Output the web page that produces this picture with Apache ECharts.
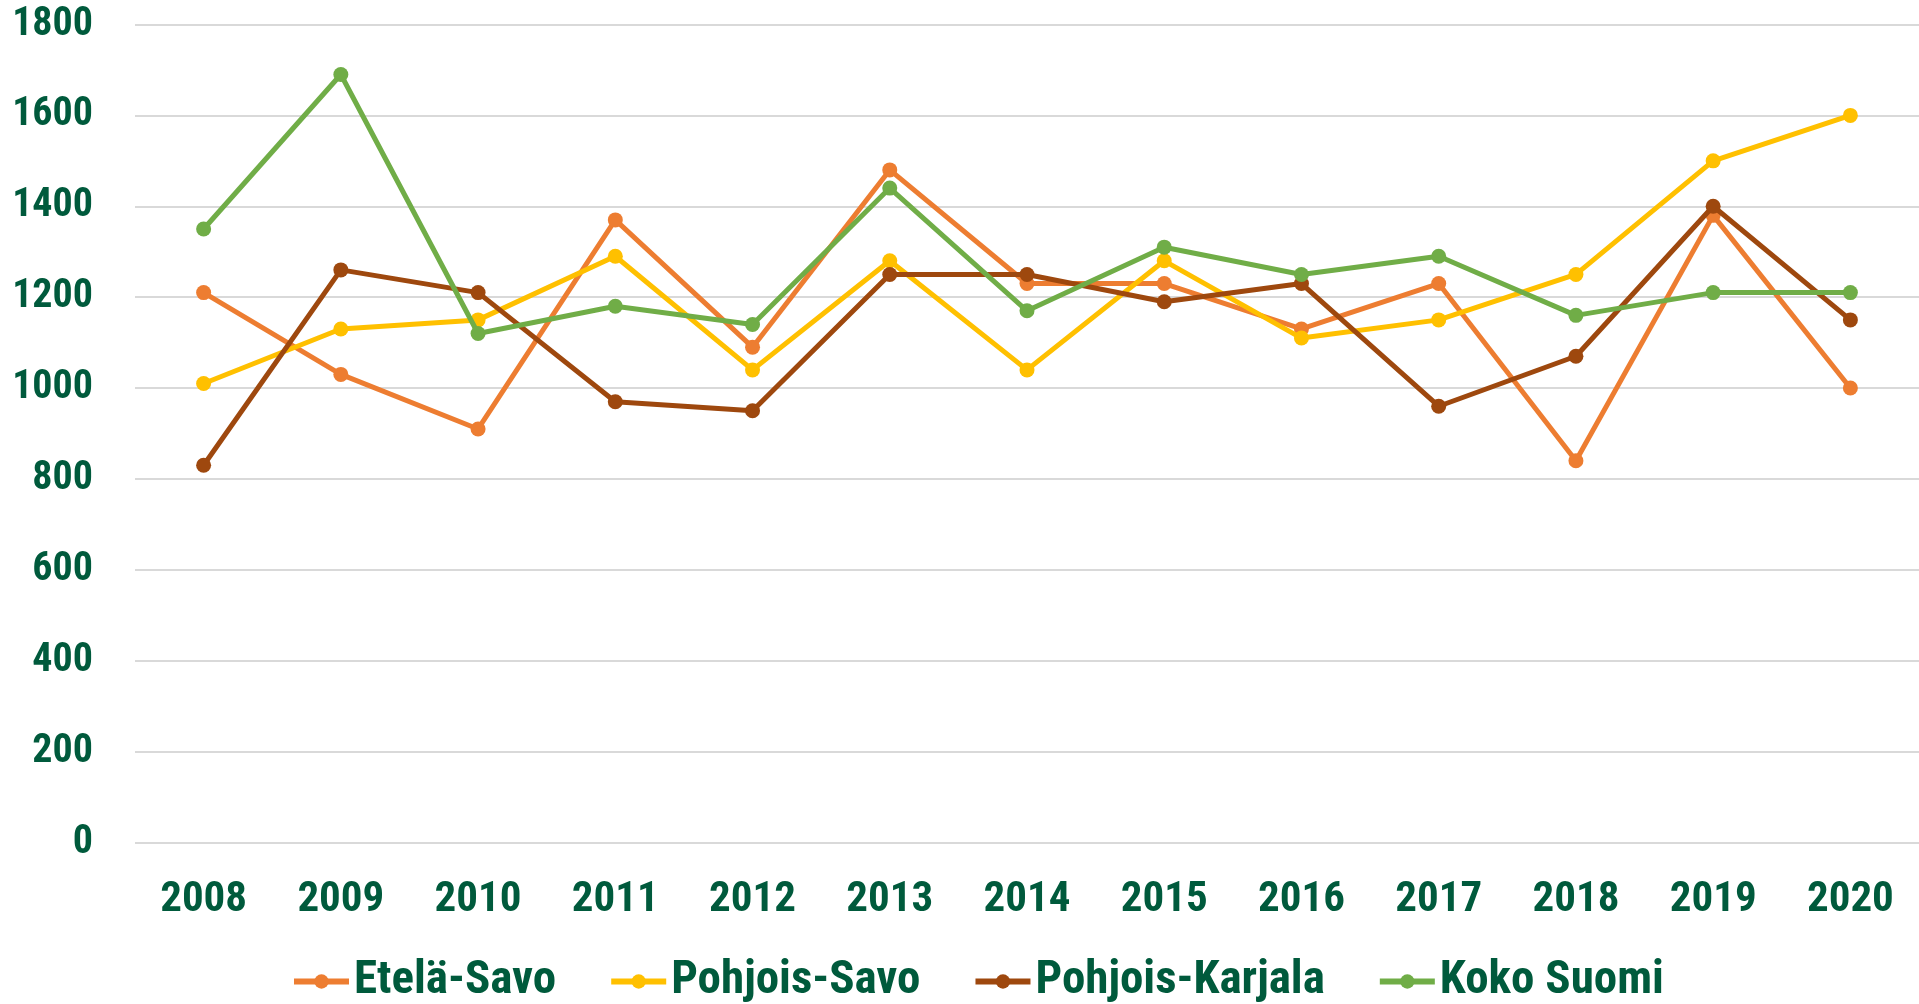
<!DOCTYPE html>
<html>
<head>
<meta charset="utf-8">
<script src="https://cdn.jsdelivr.net/npm/echarts@6/dist/echarts.min.js"></script>
<style>
html,body{margin:0;padding:0;background:#fff;}
#chart{width:1919px;height:1004px;}
</style>
</head>
<body>
<div id="chart"></div>
<script>
const years = ['2008','2009','2010','2011','2012','2013','2014','2015','2016','2017','2018','2019','2020'];
const seriesNames = ['Etelä-Savo','Pohjois-Savo','Pohjois-Karjala','Koko Suomi'];
const etelaSavo = [1210,1030,910,1370,1090,1480,1230,1230,1130,1230,840,1380,1000];
const pohjoisSavo = [1010,1130,1150,1290,1040,1280,1040,1280,1110,1150,1250,1500,1600];
const pohjoisKarjala = [830,1260,1210,970,950,1250,1250,1190,1230,960,1070,1400,1150];
const kokoSuomi = [1350,1690,1120,1180,1140,1440,1170,1310,1250,1290,1160,1210,1210];
const yTicks = [0,200,400,600,800,1000,1200,1400,1600,1800];

const colors = ['#ED7D31','#FFC000','#9E480E','#70AD47'];
const textColor = '#005A3C';
const fontFam = '"Roboto Condensed", "Liberation Sans", sans-serif';
const allData = [etelaSavo, pohjoisSavo, pohjoisKarjala, kokoSuomi];

const chart = echarts.init(document.getElementById('chart'), null, {renderer:'canvas'});
chart.setOption({
  animation:false,
  backgroundColor:'#ffffff',
  color: colors,
  grid:{left:135, right:0, top:24.5, bottom:161.5, containLabel:false, outerBoundsMode:'none'},
  legend:{
    data: seriesNames,
    left: 286,
    top: 953,
    itemWidth: 55,
    itemHeight: 18,
    itemGap: 52,
    lineStyle:{width:6},
    textStyle:{color:textColor, fontFamily:fontFam, fontWeight:'bold', fontSize:47}
  },
  xAxis:{
    type:'category',
    data: years,
    boundaryGap:true,
    axisLine:{show:false},
    axisTick:{show:false},
    axisLabel:{color:textColor, fontFamily:fontFam, fontWeight:'bold', fontSize:43, margin:36}
  },
  yAxis:{
    type:'value',
    min: yTicks[0],
    max: yTicks[yTicks.length-1],
    interval: 200,
    axisLine:{show:false},
    axisTick:{show:false},
    splitLine:{lineStyle:{color:'#D9D9D9', width:2}},
    axisLabel:{color:textColor, fontFamily:fontFam, fontWeight:'bold', fontSize:40, margin:42, formatter: v => String(v)}
  },
  series: seriesNames.map((n,i)=>({
    name:n,
    type:'line',
    data: allData[i],
    symbol:'circle',
    symbolSize:15,
    lineStyle:{width:5, color:colors[i]},
    itemStyle:{color:colors[i]},
    z: 2+i
  }))
});
</script>
</body>
</html>
